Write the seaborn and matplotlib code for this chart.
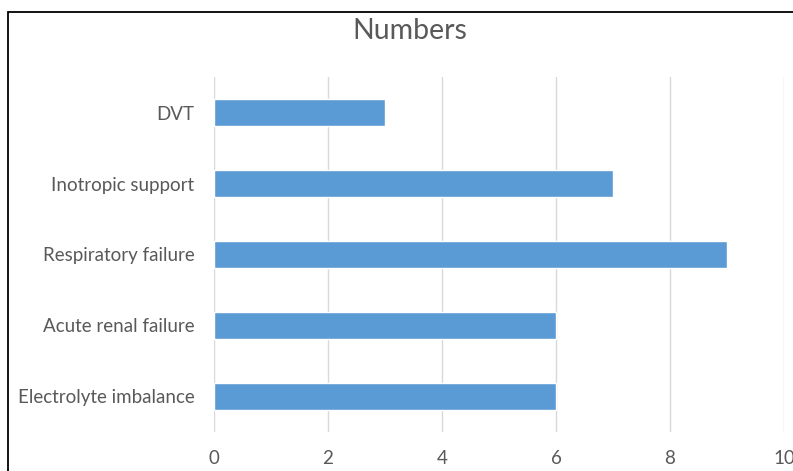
import matplotlib
matplotlib.use("Agg")
import matplotlib.pyplot as plt
import seaborn as sns
import pandas as pd
from matplotlib.patches import Rectangle

# chart data
categories = ["DVT", "Inotropic support", "Respiratory failure",
              "Acute renal failure", "Electrolyte imbalance"]
values = [3, 7, 9, 6, 6]
x_ticks = [0, 2, 4, 6, 8, 10]

df = pd.DataFrame({"category": categories, "value": values})

sns.set_theme(style="white")
plt.rcParams["font.family"] = ["Lato", "DejaVu Sans"]

W, H = 793, 471
fig = plt.figure(figsize=(W / 100, H / 100), dpi=100)
ax = fig.add_axes([214 / W, 1 - 432 / H, (784 - 214) / W, (432 - 77) / H])

sns.barplot(data=df, x="value", y="category", orient="h", color="#5B9BD5",
            saturation=1, width=0.37, ax=ax, zorder=3)

ax.set_xlim(0, 10)
ax.set_xticks(x_ticks)
ax.set_xticklabels([str(t) for t in x_ticks])
ax.grid(axis="x", color="#D9D9D9", linewidth=1, zorder=0)
ax.set_axisbelow(True)
for s in ax.spines.values():
    s.set_visible(False)
ax.tick_params(axis="both", length=0, labelsize=13.5, labelcolor="#595959")
ax.tick_params(axis="y", pad=14)
ax.tick_params(axis="x", pad=13)
ax.set_xlabel("")
ax.set_ylabel("")

fig.text(410 / W, 1 - 31 / H, "Numbers", ha="center", va="center",
         fontsize=20.5, color="#595959")

# outer chart border (cropped at right and bottom)
fig.patches.append(Rectangle((8 / W, -0.1), 1.2, 1 - 12 / H + 0.1,
                             transform=fig.transFigure, fill=False,
                             edgecolor="black", linewidth=1.3))

fig.savefig("out.png", dpi=100)
